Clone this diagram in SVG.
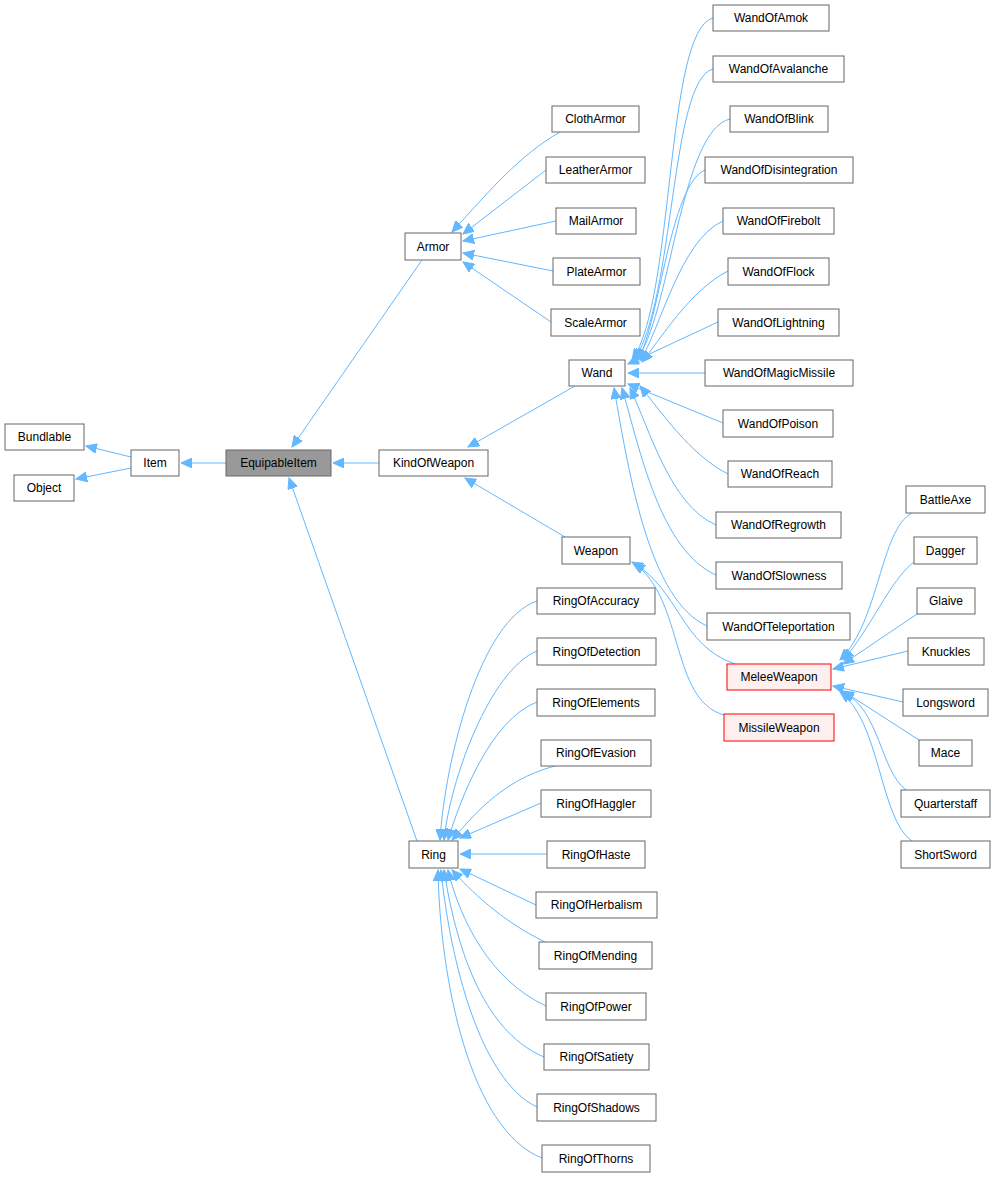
<svg xmlns="http://www.w3.org/2000/svg" width="996" height="1177" viewBox="0 0 996 1177">
<style>
.n rect{fill:#fff;stroke:#666;stroke-width:1}
.n text{font-family:"Liberation Sans",Arial,sans-serif;font-size:12px;fill:#000;text-anchor:middle}
.cur rect{fill:#999;stroke:#666}
.red rect{fill:#fff0f0;stroke:#f00}
#edges path{fill:none;stroke:#63b8ff;stroke-width:1;marker-end:url(#a)}
</style>
<defs><marker id="a" markerUnits="userSpaceOnUse" markerWidth="12" markerHeight="10" refX="11" refY="5" orient="auto"><path d="M0,0 L11,5 L0,10 z" fill="#63b8ff" stroke="#63b8ff"/></marker></defs>
<rect width="996" height="1177" fill="#fff"/>
<g id="edges">
<path d="M131,457 L86,446"/><path d="M131,468 L76,479"/>
<path d="M226,463 L181,463"/><path d="M379,463 L333,463"/>
<path d="M422,260 L292,447"/><path d="M417,841 L289,478"/>
<path d="M575,386 L468,447"/><path d="M565,537 L465,478"/>
<path d="M560,132 C520,155 490,190 452,232"/><path d="M546,170 L463,234"/><path d="M556,221 L463,241"/><path d="M553,271 L463,253"/><path d="M551,322 L463,262"/>
<path d="M713,18 C665,30 675,300 632,360"/><path d="M713,69 C670,80 675,300 634,360"/><path d="M730,119 C680,130 670,320 636,360"/><path d="M705,170 C670,185 660,320 638,360"/><path d="M723,221 C680,240 660,330 640,361"/><path d="M728,271 C690,290 660,340 642,362"/><path d="M718,322 L628,364"/><path d="M705,373 L628,373"/><path d="M723,423 L628,384"/><path d="M728,474 C690,455 660,410 640,386"/><path d="M716,525 C670,505 650,430 630,388"/><path d="M716,575 C660,550 640,450 622,388"/><path d="M707,626 C650,600 630,480 614,388"/>
<path d="M735,664 C680,645 680,590 632,562"/><path d="M724,715 C670,700 685,600 634,563"/>
<path d="M912,513 C880,530 880,620 840,660"/><path d="M914,562 C890,580 870,630 843,660"/><path d="M917,614 L843,664"/><path d="M908,651 L833,669"/><path d="M903,702 L833,686"/><path d="M919,740 L843,691"/><path d="M906,790 C880,770 880,710 843,692"/><path d="M912,841 C880,820 880,720 840,692"/>
<path d="M537,601 C480,620 445,760 440,840"/><path d="M537,651 C490,670 450,780 444,840"/><path d="M537,702 C490,720 460,800 448,840"/><path d="M555,766 C500,780 470,820 452,840"/><path d="M541,803 L460,838"/><path d="M547,854 L460,854"/><path d="M536,905 L460,869"/><path d="M545,942 C500,920 470,890 452,870"/><path d="M546,1006 C490,980 460,920 448,870"/><path d="M544,1057 C480,1030 455,940 444,870"/><path d="M537,1107 C480,1080 450,960 441,870"/><path d="M542,1158 C470,1130 440,980 438,870"/>
</g>
<g id="Bundlable" class="n"><rect x="5" y="424" width="79" height="26"/><text x="44.5" y="441">Bundlable</text></g>
<g id="Object" class="n"><rect x="14" y="475" width="60" height="26"/><text x="44" y="492">Object</text></g>
<g id="Item" class="n"><rect x="131" y="450" width="48" height="26"/><text x="155" y="467">Item</text></g>
<g id="EquipableItem" class="n cur"><rect x="226" y="450" width="105" height="26"/><text x="278.5" y="467">EquipableItem</text></g>
<g id="KindOfWeapon" class="n"><rect x="379" y="450" width="109" height="26"/><text x="433.5" y="467">KindOfWeapon</text></g>
<g id="Armor" class="n"><rect x="405" y="233" width="56" height="27"/><text x="433" y="251">Armor</text></g>
<g id="Ring" class="n"><rect x="409" y="841" width="49" height="27"/><text x="433.5" y="859">Ring</text></g>
<g id="Wand" class="n"><rect x="569" y="360" width="56" height="26"/><text x="597" y="377">Wand</text></g>
<g id="Weapon" class="n"><rect x="562" y="537" width="68" height="27"/><text x="596" y="555">Weapon</text></g>
<g id="ClothArmor" class="n"><rect x="552" y="106" width="87" height="26"/><text x="595.5" y="123">ClothArmor</text></g>
<g id="LeatherArmor" class="n"><rect x="546" y="157" width="99" height="26"/><text x="595.5" y="174">LeatherArmor</text></g>
<g id="MailArmor" class="n"><rect x="556" y="208" width="80" height="26"/><text x="596" y="225">MailArmor</text></g>
<g id="PlateArmor" class="n"><rect x="553" y="258" width="87" height="27"/><text x="596.5" y="276">PlateArmor</text></g>
<g id="ScaleArmor" class="n"><rect x="551" y="309" width="89" height="27"/><text x="595.5" y="327">ScaleArmor</text></g>
<g id="WandOfAmok" class="n"><rect x="713" y="5" width="116" height="26"/><text x="771" y="22">WandOfAmok</text></g>
<g id="WandOfAvalanche" class="n"><rect x="713" y="56" width="131" height="26"/><text x="778.5" y="73">WandOfAvalanche</text></g>
<g id="WandOfBlink" class="n"><rect x="730" y="106" width="98" height="26"/><text x="779" y="123">WandOfBlink</text></g>
<g id="WandOfDisintegration" class="n"><rect x="705" y="157" width="148" height="26"/><text x="779" y="174">WandOfDisintegration</text></g>
<g id="WandOfFirebolt" class="n"><rect x="723" y="208" width="111" height="26"/><text x="778.5" y="225">WandOfFirebolt</text></g>
<g id="WandOfFlock" class="n"><rect x="728" y="258" width="101" height="27"/><text x="778.5" y="276">WandOfFlock</text></g>
<g id="WandOfLightning" class="n"><rect x="718" y="309" width="121" height="27"/><text x="778.5" y="327">WandOfLightning</text></g>
<g id="WandOfMagicMissile" class="n"><rect x="705" y="360" width="148" height="26"/><text x="779" y="377">WandOfMagicMissile</text></g>
<g id="WandOfPoison" class="n"><rect x="723" y="410" width="110" height="27"/><text x="778" y="428">WandOfPoison</text></g>
<g id="WandOfReach" class="n"><rect x="728" y="461" width="104" height="26"/><text x="780" y="478">WandOfReach</text></g>
<g id="WandOfRegrowth" class="n"><rect x="716" y="512" width="125" height="26"/><text x="778.5" y="529">WandOfRegrowth</text></g>
<g id="WandOfSlowness" class="n"><rect x="716" y="562" width="126" height="27"/><text x="779" y="580">WandOfSlowness</text></g>
<g id="WandOfTeleportation" class="n"><rect x="707" y="613" width="143" height="27"/><text x="778.5" y="631">WandOfTeleportation</text></g>
<g id="MeleeWeapon" class="n red"><rect x="727" y="664" width="104" height="26"/><text x="779" y="681">MeleeWeapon</text></g>
<g id="MissileWeapon" class="n red"><rect x="724" y="714" width="110" height="27"/><text x="779" y="732">MissileWeapon</text></g>
<g id="BattleAxe" class="n"><rect x="906" y="486" width="79" height="27"/><text x="945.5" y="504">BattleAxe</text></g>
<g id="Dagger" class="n"><rect x="914" y="537" width="63" height="27"/><text x="945.5" y="555">Dagger</text></g>
<g id="Glaive" class="n"><rect x="917" y="588" width="58" height="26"/><text x="946" y="605">Glaive</text></g>
<g id="Knuckles" class="n"><rect x="908" y="638" width="76" height="27"/><text x="946" y="656">Knuckles</text></g>
<g id="Longsword" class="n"><rect x="903" y="689" width="85" height="27"/><text x="945.5" y="707">Longsword</text></g>
<g id="Mace" class="n"><rect x="919" y="740" width="53" height="26"/><text x="945.5" y="757">Mace</text></g>
<g id="Quarterstaff" class="n"><rect x="901" y="790" width="89" height="27"/><text x="945.5" y="808">Quarterstaff</text></g>
<g id="ShortSword" class="n"><rect x="901" y="841" width="89" height="27"/><text x="945.5" y="859">ShortSword</text></g>
<g id="RingOfAccuracy" class="n"><rect x="537" y="588" width="118" height="26"/><text x="596" y="605">RingOfAccuracy</text></g>
<g id="RingOfDetection" class="n"><rect x="537" y="638" width="119" height="27"/><text x="596.5" y="656">RingOfDetection</text></g>
<g id="RingOfElements" class="n"><rect x="537" y="689" width="118" height="27"/><text x="596" y="707">RingOfElements</text></g>
<g id="RingOfEvasion" class="n"><rect x="541" y="740" width="110" height="26"/><text x="596" y="757">RingOfEvasion</text></g>
<g id="RingOfHaggler" class="n"><rect x="541" y="790" width="110" height="27"/><text x="596" y="808">RingOfHaggler</text></g>
<g id="RingOfHaste" class="n"><rect x="547" y="841" width="98" height="27"/><text x="596" y="859">RingOfHaste</text></g>
<g id="RingOfHerbalism" class="n"><rect x="536" y="892" width="121" height="26"/><text x="596.5" y="909">RingOfHerbalism</text></g>
<g id="RingOfMending" class="n"><rect x="539" y="942" width="113" height="27"/><text x="595.5" y="960">RingOfMending</text></g>
<g id="RingOfPower" class="n"><rect x="546" y="993" width="100" height="27"/><text x="596" y="1011">RingOfPower</text></g>
<g id="RingOfSatiety" class="n"><rect x="544" y="1044" width="105" height="26"/><text x="596.5" y="1061">RingOfSatiety</text></g>
<g id="RingOfShadows" class="n"><rect x="537" y="1094" width="119" height="27"/><text x="596.5" y="1112">RingOfShadows</text></g>
<g id="RingOfThorns" class="n"><rect x="542" y="1145" width="108" height="27"/><text x="596" y="1163">RingOfThorns</text></g>
</svg>
